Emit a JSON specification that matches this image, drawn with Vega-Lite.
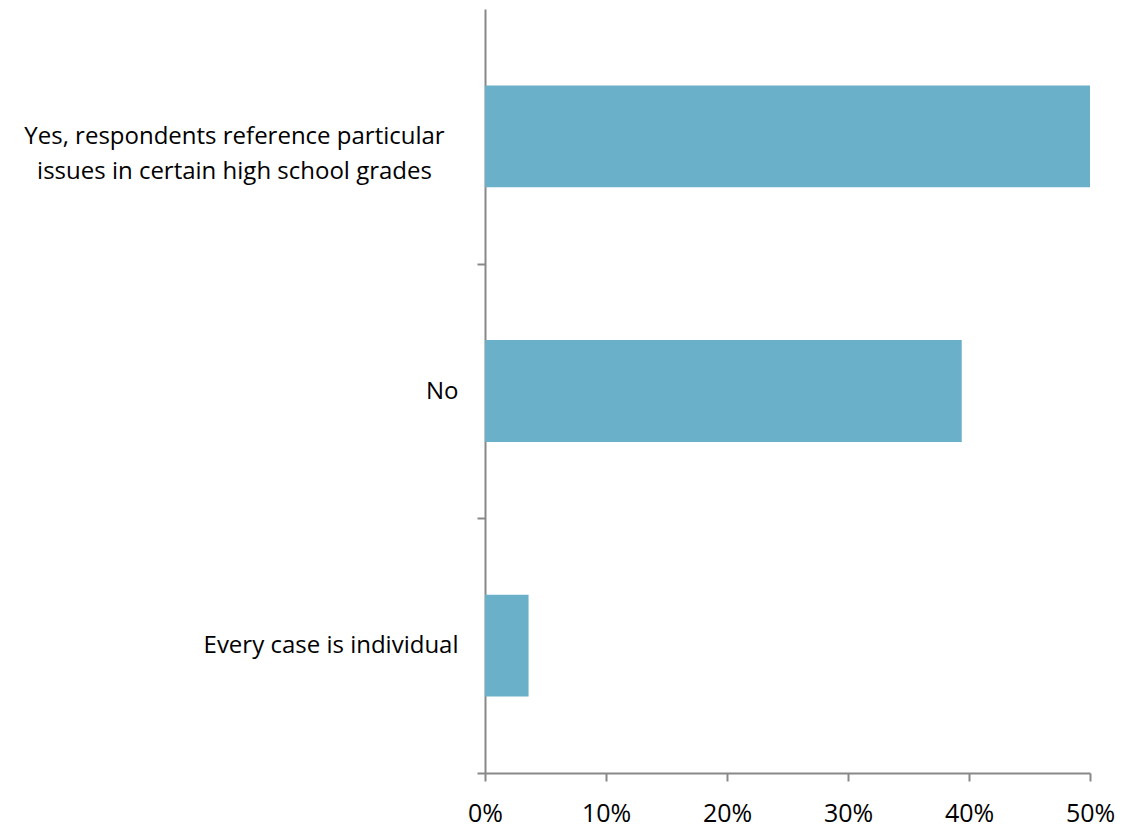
{
  "$schema": "https://vega.github.io/schema/vega-lite/v6.json",
  "autosize": "none",
  "width": 605,
  "height": 764,
  "padding": {"left": 485, "top": 9, "right": 32, "bottom": 56},
  "background": "white",
  "config": {
    "view": {"stroke": null},
    "font": "Open Sans"
  },
  "data": {
    "values": [
      {"answer": "Yes, respondents reference particular|issues in certain high school grades", "share": 0.5},
      {"answer": "No", "share": 0.394},
      {"answer": "Every case is individual", "share": 0.036}
    ]
  },
  "mark": {"type": "bar", "color": "#6BB0C9"},
  "encoding": {
    "y": {
      "field": "answer",
      "type": "nominal",
      "sort": null,
      "title": null,
      "scale": {"paddingInner": 0.6, "paddingOuter": 0.3},
      "axis": {
        "labelExpr": "split(datum.label, '|')",
        "labelFont": "Open Sans",
        "labelFontSize": 24,
        "labelColor": "#000000",
        "labelAlign": {"condition": {"test": "indexof(datum.value, '|') >= 0", "value": "center"}, "value": "right"},
        "labelPadding": {"condition": {"test": "indexof(datum.value, '|') >= 0", "value": 243}, "value": 19},
        "labelLineHeight": 35,
        "labelLimit": 600,
        "tickBand": "center",
        "tickOffset": 127.33,
        "labelOffset": -127.33,
        "domainColor": "#888888",
        "domainWidth": 2,
        "tickColor": "#888888",
        "tickWidth": 2,
        "tickSize": 8,
        "grid": false
      }
    },
    "x": {
      "field": "share",
      "type": "quantitative",
      "title": null,
      "scale": {"domain": [0, 0.5], "nice": false, "zero": true},
      "axis": {
        "format": ".0%",
        "values": [0, 0.1, 0.2, 0.3, 0.4, 0.5],
        "labelFont": "Open Sans",
        "labelFontSize": 25,
        "labelColor": "#000000",
        "labelPadding": 20,
        "labelFlush": false,
        "domainColor": "#888888",
        "domainWidth": 2,
        "tickColor": "#888888",
        "tickWidth": 2,
        "tickSize": 8,
        "grid": false
      }
    }
  }
}
